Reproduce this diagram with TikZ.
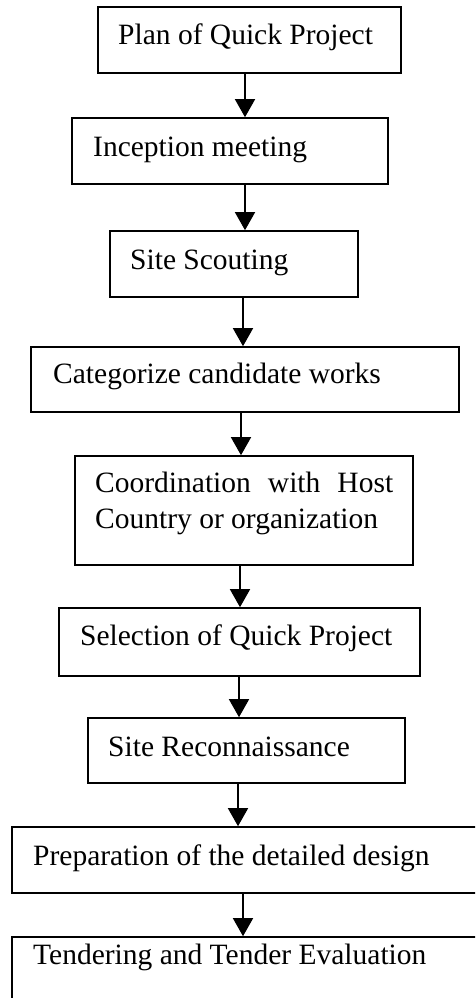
\documentclass[tikz,border=0pt]{standalone}
\usepackage{fontspec}
\setmainfont{Liberation Serif}
\usetikzlibrary{arrows.meta}
\begin{document}
\begin{tikzpicture}[x=1pt,y=-1pt,
  stepbox/.style={draw=black,line width=1.6pt,inner sep=0pt},
  lbl/.style={anchor=base west,inner sep=0pt,font=\fontsize{29.5}{36}\selectfont},
  arr/.style={line width=1.5pt,-{Triangle[width=20pt,length=18pt]}}]
\useasboundingbox (0,0) rectangle (475,998);
\clip (0,0) rectangle (475,998);
% boxes
\node[stepbox,minimum width=303pt,minimum height=66pt] (b1) at (249.5,40) {};
\node[stepbox,minimum width=316pt,minimum height=66pt] (b2) at (230,151) {};
\node[stepbox,minimum width=248pt,minimum height=66pt] (b3) at (234,264) {};
\node[stepbox,minimum width=428pt,minimum height=65pt] (b4) at (245,379.5) {};
\node[stepbox,minimum width=338pt,minimum height=109pt] (b5) at (244,510.5) {};
\node[stepbox,minimum width=361pt,minimum height=68pt] (b6) at (239.5,642) {};
\node[stepbox,minimum width=317pt,minimum height=65pt] (b7) at (246.5,750.5) {};
\node[stepbox,minimum width=470pt,minimum height=66pt] (b8) at (247,860) {};
\node[stepbox,minimum width=470pt,minimum height=80pt] (b9) at (247,977) {};
% texts
\node[lbl] (t1) at (118,45) {Plan of Quick Project};
\node[lbl] (t2) at (93,156) {Inception meeting};
\node[lbl] (t3) at (130,269) {Site Scouting};
\node[lbl] (t4) at (53,383) {Categorize candidate works};
\node[lbl] (t5a) at (95,492) {\makebox[298pt][s]{Coordination with Host}};
\node[lbl] (t5b) at (95,528) {Country or organization};
\node[lbl] (t6) at (80,645) {Selection of Quick Project};
\node[lbl] (t7) at (108,756) {Site Reconnaissance};
\node[lbl] (t8) at (33,865) {Preparation of the detailed design};
\node[lbl] (t9) at (33,964) {Tendering and Tender Evaluation};
% connectors
\draw[arr] (245,0 |- b1.south) -- (245,0 |- b2.north);
\draw[arr] (245,0 |- b2.south) -- (245,0 |- b3.north);
\draw[arr] (243,0 |- b3.south) -- (243,0 |- b4.north);
\draw[arr] (241,0 |- b4.south) -- (241,0 |- b5.north);
\draw[arr] (240,0 |- b5.south) -- (240,0 |- b6.north);
\draw[arr] (239,0 |- b6.south) -- (239,0 |- b7.north);
\draw[arr] (238,0 |- b7.south) -- (238,0 |- b8.north);
\draw[arr] (243,0 |- b8.south) -- (243,0 |- b9.north);
\end{tikzpicture}
\end{document}
